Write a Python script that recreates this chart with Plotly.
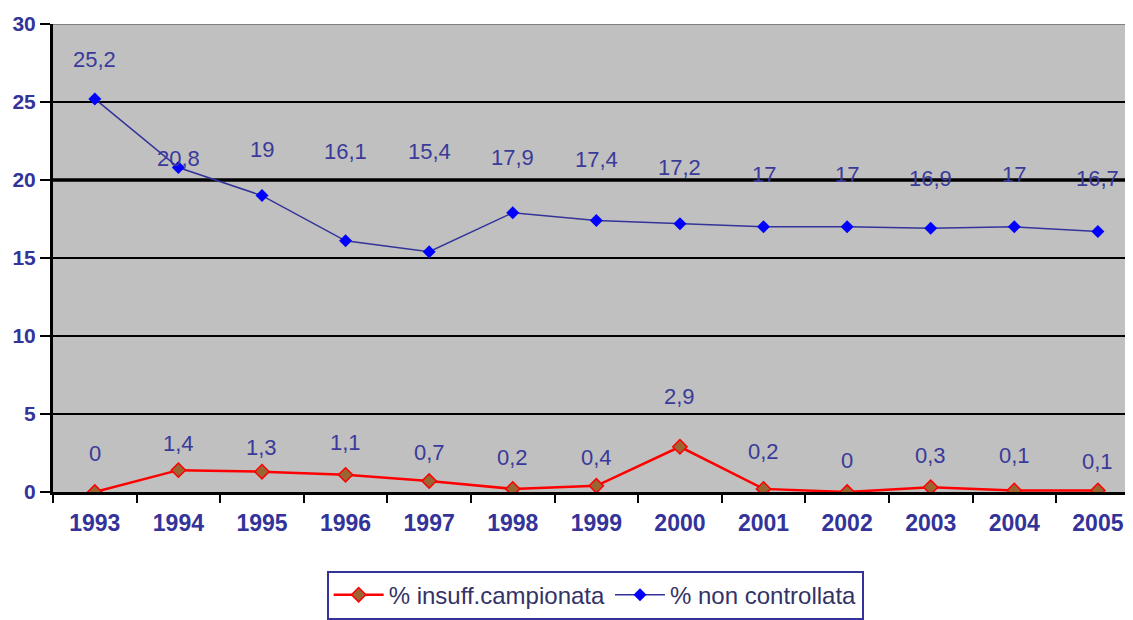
import plotly.graph_objects as go

years = ["1993", "1994", "1995", "1996", "1997", "1998", "1999",
         "2000", "2001", "2002", "2003", "2004", "2005"]
insuff = [0, 1.4, 1.3, 1.1, 0.7, 0.2, 0.4, 2.9, 0.2, 0, 0.3, 0.1, 0.1]
non_contr = [25.2, 20.8, 19, 16.1, 15.4, 17.9, 17.4, 17.2, 17, 17, 16.9, 17, 16.7]
y_ticks = [0, 5, 10, 15, 20, 25, 30]

# label offsets above each point (px), as placed in the reference
insuff_shift = [39, 27, 24, 32, 29, 31, 28, 50, 37, 32, 32, 35, 29]
non_shift = [39, 9, 46, 89, 100, 55, 61, 56, 52, 52, 50, 52, 53]

def fmt(v):
    return ("%g" % v).replace(".", ",")

TXT = "#333399"
fig = go.Figure()
fig.add_trace(go.Scatter(
    x=years, y=insuff, mode="lines+markers", name="% insuff.campionata",
    line=dict(color="#ff0000", width=2.5),
    marker=dict(symbol="diamond", size=11, color="#996633",
                line=dict(color="#ff0000", width=1.5)),
))
fig.add_trace(go.Scatter(
    x=years, y=non_contr, mode="lines+markers", name="% non controllata",
    line=dict(color="#333399", width=1.5),
    marker=dict(symbol="diamond", size=10, color="#0000ff",
                line=dict(color="#0000ff", width=0)),
))

for ys, sh in ((insuff, insuff_shift), (non_contr, non_shift)):
    for i, (y, s) in enumerate(zip(ys, sh)):
        fig.add_annotation(x=i, y=y, xref="x", yref="y", text=fmt(y),
                           showarrow=False, yshift=s,
                           font=dict(family="Liberation Sans, Arial", size=22, color="#3a3a9a"))

# thicker gridline at 20 and gray top border at 30
fig.add_shape(type="line", xref="paper", x0=0, x1=1, yref="y", y0=20, y1=20,
              line=dict(color="black", width=3.5), layer="below")
fig.add_shape(type="line", xref="paper", x0=0, x1=1, yref="y", y0=30, y1=30,
              line=dict(color="#808080", width=2), layer="above")

fig.update_layout(
    width=1125, height=612,
    margin=dict(l=45, r=0, t=16, b=128, autoexpand=False),
    paper_bgcolor="white", plot_bgcolor="#c0c0c0",
    font=dict(family="Liberation Sans, Arial", color=TXT),
    showlegend=True,
    legend=dict(orientation="h", x=0.502, xanchor="center", y=-0.168, yanchor="top",
                bgcolor="white", bordercolor="#333399", borderwidth=2,
                font=dict(size=24, color="#333366"), itemwidth=50,
                tracegroupgap=0),
    xaxis=dict(type="category", range=[-0.5, 12.42], showgrid=False, automargin=False,
               showline=True, linecolor="black", linewidth=3,
               ticks="outside", tickson="boundaries", ticklen=8, tickwidth=2,
               tickcolor="black", ticklabelstandoff=8,
               tickfont=dict(size=23, color=TXT, family="Liberation Sans, Arial",
                             weight="bold")),
    yaxis=dict(range=[0, 30], tickvals=y_ticks, showgrid=True, gridcolor="black",
               automargin=False,
               gridwidth=2, zeroline=False, showline=True, linecolor="black", linewidth=3,
               ticks="outside", ticklen=10, tickwidth=2, tickcolor="black",
               tickfont=dict(size=21, color=TXT, weight="bold")),
)

fig.write_html("out.html")
